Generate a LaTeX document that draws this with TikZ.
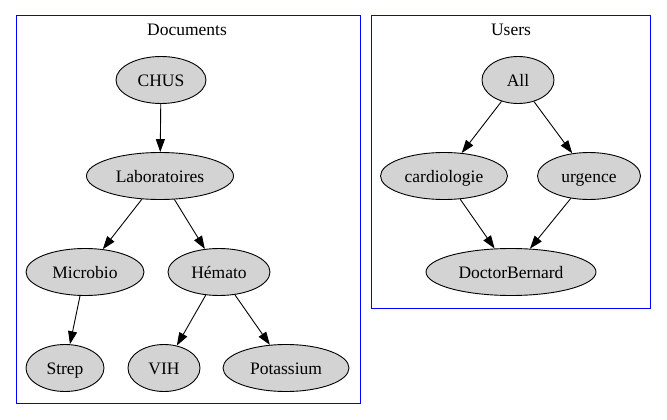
\documentclass[tikz,border=0pt]{standalone}
\usepackage{fontspec}
\setmainfont{Liberation Serif}
\usetikzlibrary{shapes.geometric,arrows.meta}
\begin{document}
\begin{tikzpicture}[x=1pt,y=-1pt,
  nd/.style={ellipse,draw=black,fill={rgb,255:red,211;green,211;blue,211},line width=0.9pt,inner sep=0pt,minimum height=47pt,text height=13pt,text depth=1pt,font=\fontsize{17.5}{20}\selectfont},
  edge/.style={draw=black,line width=0.9pt,-{Triangle[length=13pt,width=9pt]}},
  cluster/.style={draw={rgb,255:red,0;green,0;blue,255},line width=1pt},
  ttl/.style={font=\fontsize{17.5}{20}\selectfont}]
\useasboundingbox (0,0) rectangle (667,420);
\draw[cluster] (16,16) rectangle (360,403);
\draw[cluster] (371,16) rectangle (650,308);
\node[ttl] (tdoc) at (187,30) {Documents};
\node[ttl] (tusr) at (511,30) {Users};
\node[nd,minimum width=90pt] (chus) at (161,80) {CHUS};
\node[nd,minimum width=147pt] (lab) at (160,176) {Laboratoires};
\node[nd,minimum width=118pt] (micro) at (85,272) {Microbio};
\node[nd,minimum width=102pt] (hemato) at (219,272) {Hémato};
\node[nd,minimum width=78pt] (strep) at (65,368) {Strep};
\node[nd,minimum width=72pt] (vih) at (164,368) {VIH};
\node[nd,minimum width=126pt] (pot) at (286,368) {Potassium};
\node[nd,minimum width=72pt] (all) at (518,80) {All};
\node[nd,minimum width=127pt] (card) at (444,176) {cardiologie};
\node[nd,minimum width=103pt] (urg) at (589,176) {urgence};
\node[nd,minimum width=170pt] (doc) at (511,272) {DoctorBernard};
\draw[edge] (chus) -- (lab);
\draw[edge] (lab) -- (micro);
\draw[edge] (lab) -- (hemato);
\draw[edge] (micro) -- (strep);
\draw[edge] (hemato) -- (vih);
\draw[edge] (hemato) -- (pot);
\draw[edge] (all) -- (card);
\draw[edge] (all) -- (urg);
\draw[edge] (card) -- (doc);
\draw[edge] (urg) -- (doc);
\end{tikzpicture}
\end{document}
